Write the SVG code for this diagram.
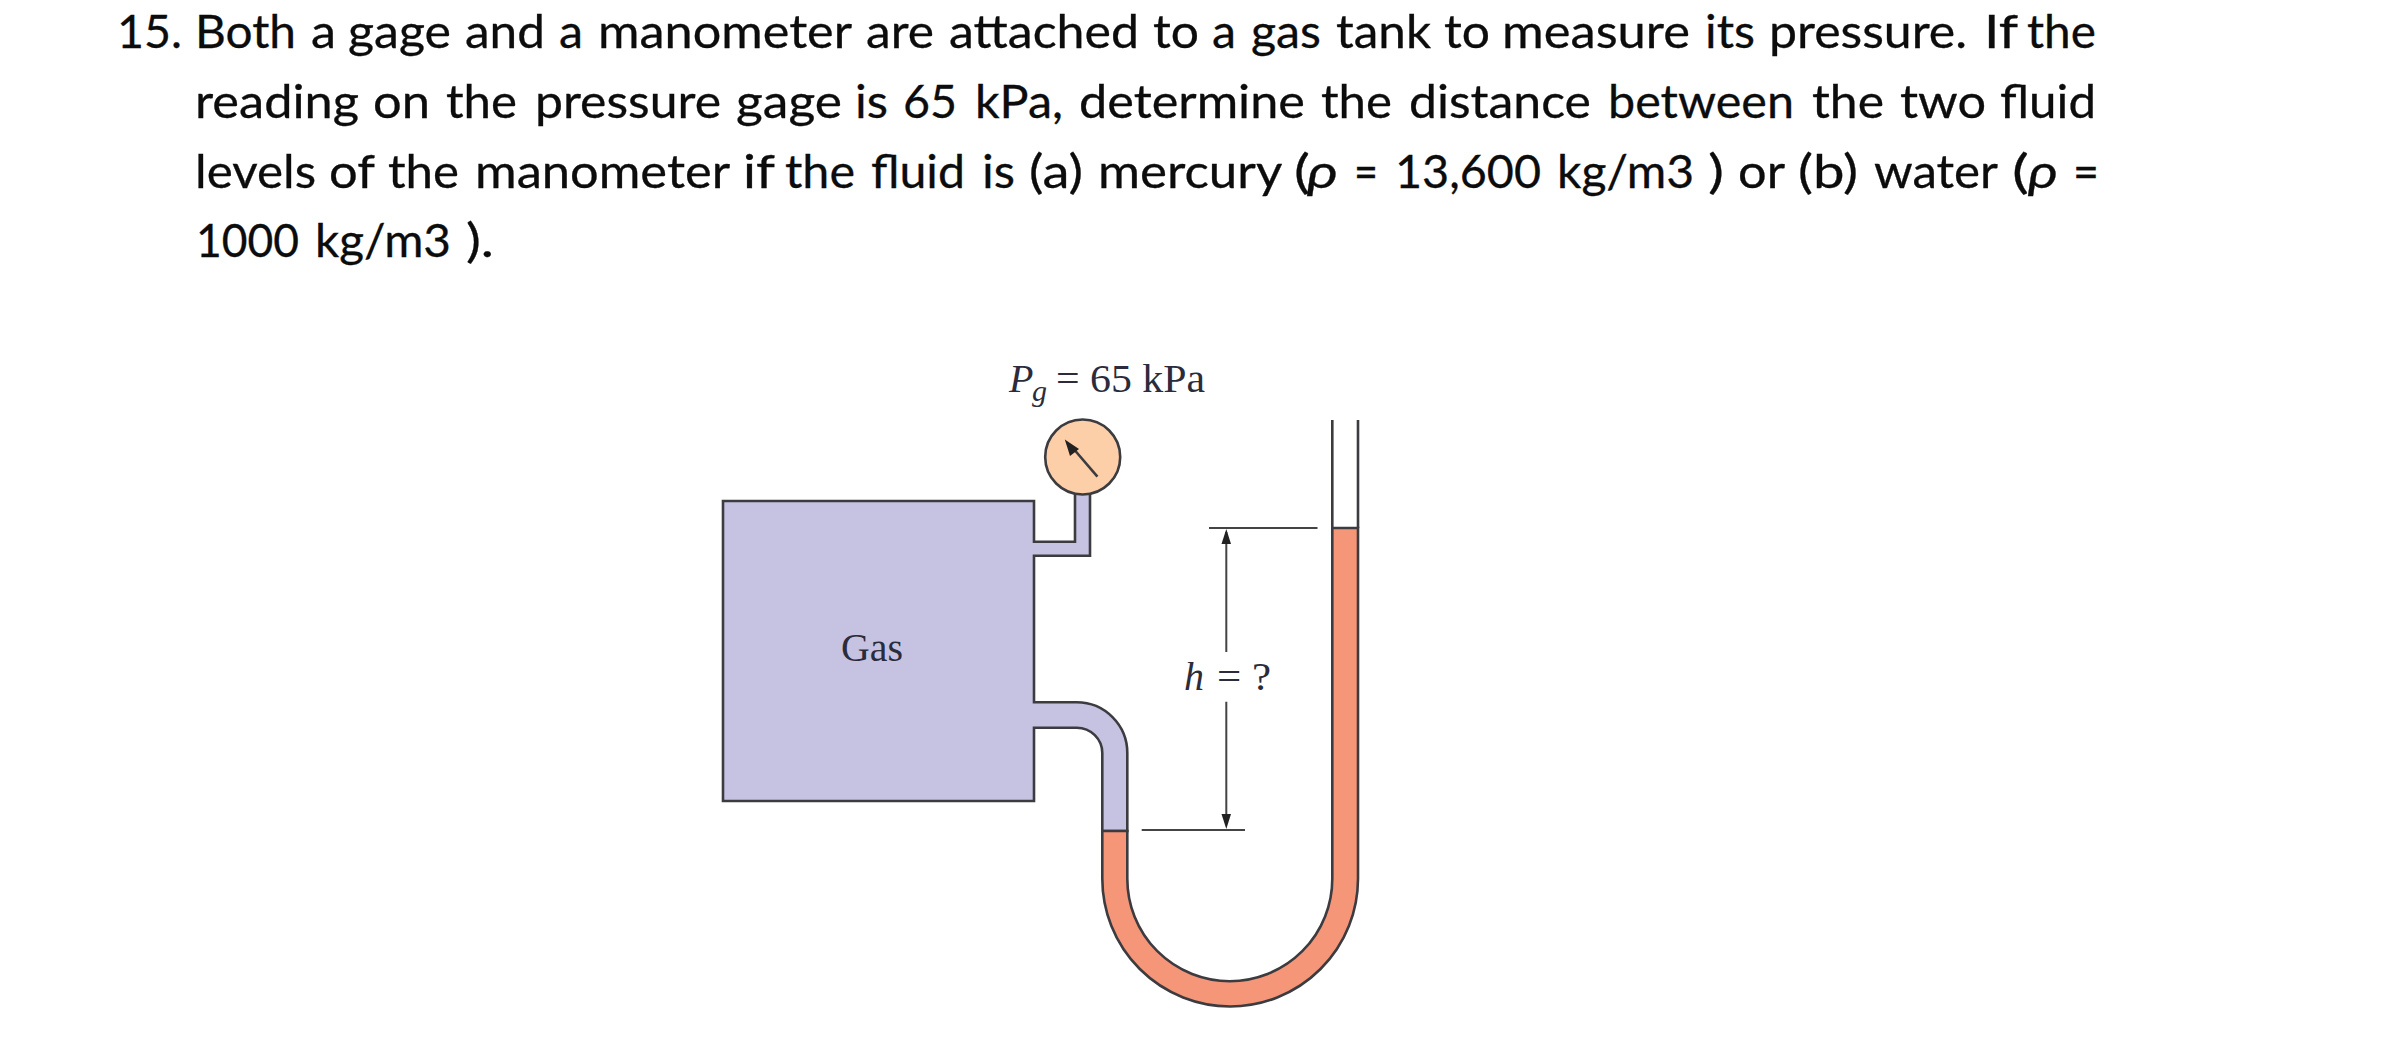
<svg xmlns="http://www.w3.org/2000/svg" width="2381" height="1053" viewBox="0 0 2381 1053">
<style>
.q{font-family:"Lato","Liberation Sans",sans-serif;font-size:47px;fill:#0c0c0c;stroke:#0c0c0c;stroke-width:.3}
.r{font-family:"Liberation Serif","Times New Roman",serif;font-size:40px;fill:#2b2b3c}
.i{font-style:italic}
.o{stroke:#3c3c40;stroke-width:2.6;stroke-linejoin:miter}
.n{fill:none}
.d{stroke:#444;stroke-width:2;fill:none}
.h{fill:#222}
.gas{fill:#c5c3e1}
.fl{fill:#f69679}
.di{fill:#fdcfa9}
</style>
<rect width="2381" height="1053" fill="#fff"/>
<g id="question">
<text class="q" y="48" lengthAdjust="spacingAndGlyphs"><tspan x="117" textLength="65" lengthAdjust="spacingAndGlyphs">15.</tspan> <tspan x="195" textLength="101" lengthAdjust="spacingAndGlyphs">Both</tspan> <tspan x="311" textLength="25" lengthAdjust="spacingAndGlyphs">a</tspan> <tspan x="348" textLength="103" lengthAdjust="spacingAndGlyphs">gage</tspan> <tspan x="465" textLength="80" lengthAdjust="spacingAndGlyphs">and</tspan> <tspan x="559" textLength="24" lengthAdjust="spacingAndGlyphs">a</tspan> <tspan x="598" textLength="253" lengthAdjust="spacingAndGlyphs">manometer</tspan> <tspan x="866" textLength="68" lengthAdjust="spacingAndGlyphs">are</tspan> <tspan x="949" textLength="190" lengthAdjust="spacingAndGlyphs">attached</tspan> <tspan x="1153" textLength="46" lengthAdjust="spacingAndGlyphs">to</tspan> <tspan x="1212" textLength="24" lengthAdjust="spacingAndGlyphs">a</tspan> <tspan x="1251" textLength="70" lengthAdjust="spacingAndGlyphs">gas</tspan> <tspan x="1336" textLength="95" lengthAdjust="spacingAndGlyphs">tank</tspan> <tspan x="1444" textLength="46" lengthAdjust="spacingAndGlyphs">to</tspan> <tspan x="1502" textLength="188" lengthAdjust="spacingAndGlyphs">measure</tspan> <tspan x="1705" textLength="50" lengthAdjust="spacingAndGlyphs">its</tspan> <tspan x="1769" textLength="198" lengthAdjust="spacingAndGlyphs">pressure.</tspan> <tspan x="1984" textLength="33" lengthAdjust="spacingAndGlyphs">If</tspan> <tspan x="2027" textLength="69" lengthAdjust="spacingAndGlyphs">the</tspan></text>
<text class="q" y="118"><tspan x="195" textLength="164" lengthAdjust="spacingAndGlyphs">reading</tspan> <tspan x="373" textLength="57" lengthAdjust="spacingAndGlyphs">on</tspan> <tspan x="446" textLength="71" lengthAdjust="spacingAndGlyphs">the</tspan> <tspan x="535" textLength="186" lengthAdjust="spacingAndGlyphs">pressure</tspan> <tspan x="736" textLength="106" lengthAdjust="spacingAndGlyphs">gage</tspan> <tspan x="855" textLength="33" lengthAdjust="spacingAndGlyphs">is</tspan> <tspan x="903" textLength="54" lengthAdjust="spacingAndGlyphs">65</tspan> <tspan x="975" textLength="88" lengthAdjust="spacingAndGlyphs">kPa,</tspan> <tspan x="1079" textLength="226" lengthAdjust="spacingAndGlyphs">determine</tspan> <tspan x="1321" textLength="71" lengthAdjust="spacingAndGlyphs">the</tspan> <tspan x="1409" textLength="182" lengthAdjust="spacingAndGlyphs">distance</tspan> <tspan x="1608" textLength="186" lengthAdjust="spacingAndGlyphs">between</tspan> <tspan x="1812" textLength="72" lengthAdjust="spacingAndGlyphs">the</tspan> <tspan x="1900" textLength="86" lengthAdjust="spacingAndGlyphs">two</tspan> <tspan x="2000" textLength="96" lengthAdjust="spacingAndGlyphs">fluid</tspan></text>
<text class="q" y="188"><tspan x="195" textLength="121" lengthAdjust="spacingAndGlyphs">levels</tspan> <tspan x="329" textLength="45" lengthAdjust="spacingAndGlyphs">of</tspan> <tspan x="388" textLength="71" lengthAdjust="spacingAndGlyphs">the</tspan> <tspan x="475" textLength="254" lengthAdjust="spacingAndGlyphs">manometer</tspan> <tspan x="743" textLength="31" lengthAdjust="spacingAndGlyphs">if</tspan> <tspan x="785" textLength="70" lengthAdjust="spacingAndGlyphs">the</tspan> <tspan x="871" textLength="94" lengthAdjust="spacingAndGlyphs">fluid</tspan> <tspan x="982" textLength="33" lengthAdjust="spacingAndGlyphs">is</tspan> <tspan x="1029" textLength="54" lengthAdjust="spacingAndGlyphs">(a)</tspan> <tspan x="1098" textLength="183" lengthAdjust="spacingAndGlyphs">mercury</tspan> <tspan x="1294" textLength="16" lengthAdjust="spacingAndGlyphs">(</tspan><tspan class="i" x="1307" textLength="31" lengthAdjust="spacingAndGlyphs">ρ</tspan> <tspan x="1354" textLength="24" lengthAdjust="spacingAndGlyphs">=</tspan> <tspan x="1395" textLength="146" lengthAdjust="spacingAndGlyphs">13,600</tspan> <tspan x="1557" textLength="137" lengthAdjust="spacingAndGlyphs">kg/m3</tspan> <tspan x="1708" textLength="16" lengthAdjust="spacingAndGlyphs">)</tspan> <tspan x="1738" textLength="46" lengthAdjust="spacingAndGlyphs">or</tspan> <tspan x="1798" textLength="60" lengthAdjust="spacingAndGlyphs">(b)</tspan> <tspan x="1874" textLength="123" lengthAdjust="spacingAndGlyphs">water</tspan> <tspan x="2012" textLength="17" lengthAdjust="spacingAndGlyphs">(</tspan><tspan class="i" x="2028" textLength="30" lengthAdjust="spacingAndGlyphs">ρ</tspan> <tspan x="2073" textLength="26" lengthAdjust="spacingAndGlyphs">=</tspan></text>
<text class="q" y="257"><tspan x="196" textLength="103" lengthAdjust="spacingAndGlyphs">1000</tspan> <tspan x="315" textLength="136" lengthAdjust="spacingAndGlyphs">kg/m3</tspan> <tspan x="466" textLength="28" lengthAdjust="spacingAndGlyphs">).</tspan></text>
</g>
<g id="tank">
<path d="M1034 501H723V801H1034V727.7H1076.7A25.6 25.3 0 0 1 1102.3 753V831H1127.3V753A50.6 50.7 0 0 0 1076.7 702.3H1034V555.7H1090V480H1075V541.7H1034Z" class="gas o"/>
<text class="r" x="872" y="661" text-anchor="middle" textLength="62" lengthAdjust="spacingAndGlyphs">Gas</text>
</g>
<g id="gauge">
<circle cx="1082.7" cy="457" r="37.5" class="di o"/>
<path d="M1097.4 476.7L1072 447" class="o n"/>
<path d="M1064.8 439.5L1079 449L1070 456Z" class="h"/>
<text class="r" y="391.5"><tspan class="i" x="1009">P</tspan><tspan class="i" x="1032" y="401" font-size="30">g</tspan><tspan x="1056" y="391.5" textLength="149" lengthAdjust="spacingAndGlyphs">= 65 kPa</tspan></text>
</g>
<g id="manometer">
<path d="M1102.3 831H1127.3V878.7A102.5 102.5 0 0 0 1332.3 878.7V528H1358V878.7A127.85 127.85 0 0 1 1102.3 878.7Z" class="fl o"/>
<path d="M1332.3 420V528M1358 420V528" class="o n"/>
</g>
<g id="connectors">
<path d="M1209 528H1317.5M1141.7 830H1245M1226.3 532V652M1226.3 701.7V820" class="d"/>
<path d="M1226.3 529L1221.5 544H1231Z" class="h"/>
<path d="M1226.3 829L1221.5 814H1231Z" class="h"/>
</g>
<g id="h-label">
<text class="r" y="690"><tspan class="i" x="1184">h</tspan> <tspan x="1217" textLength="54" lengthAdjust="spacingAndGlyphs">= ?</tspan></text>
</g>
</svg>
